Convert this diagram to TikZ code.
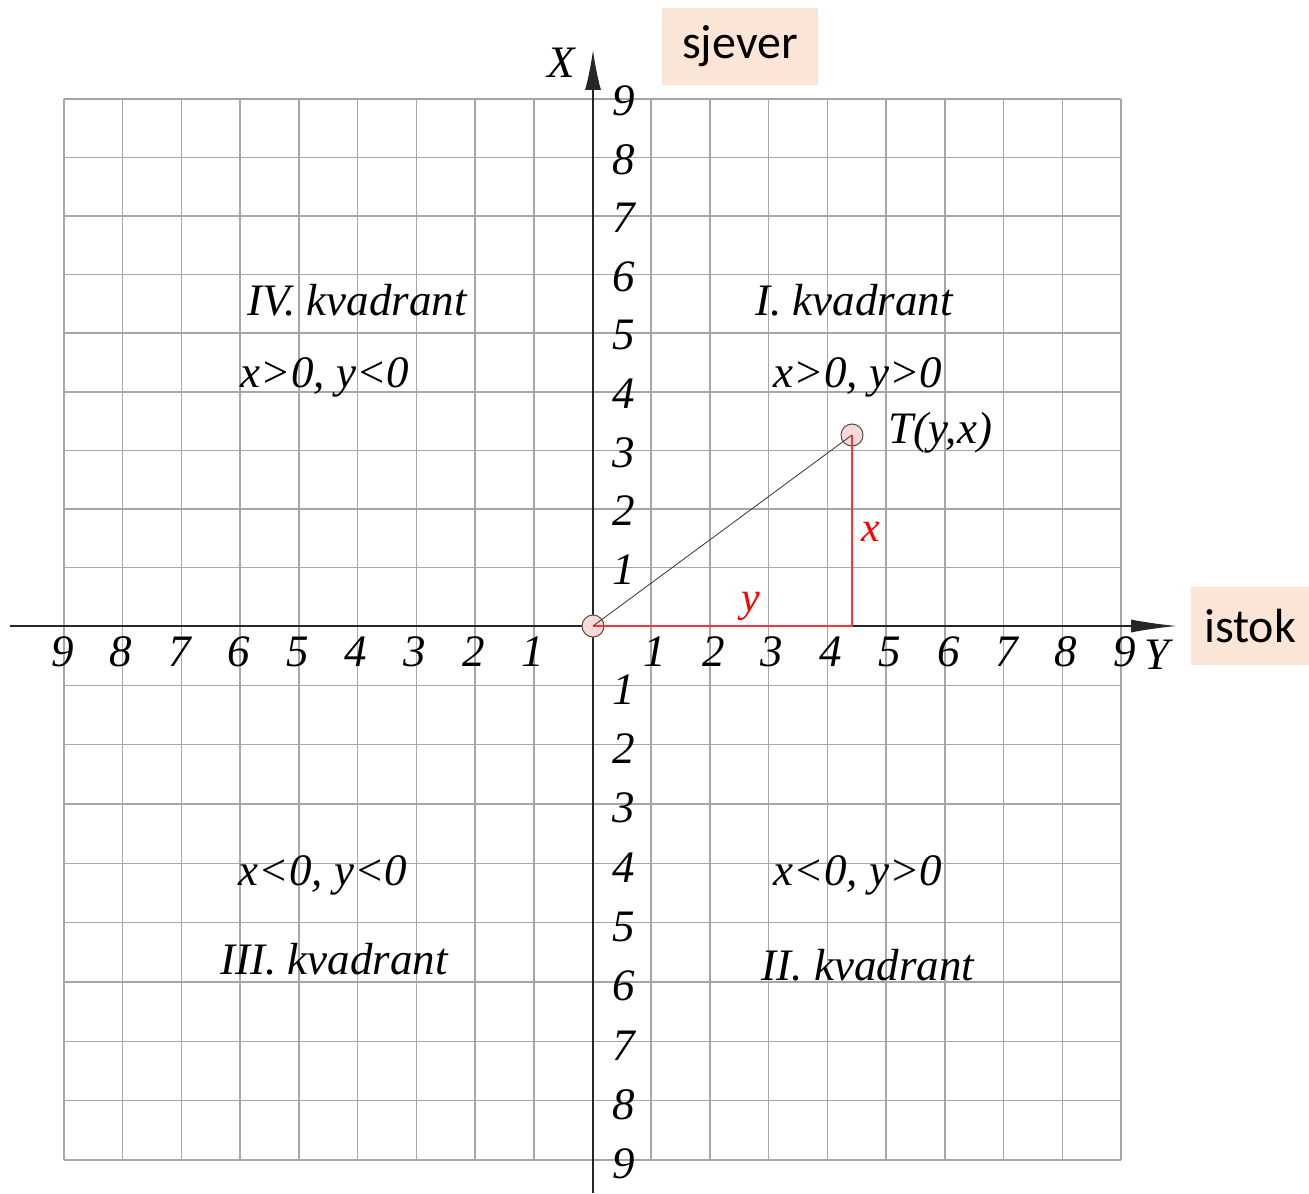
\documentclass[tikz,border=0pt]{standalone}
\usepackage{fontspec}
\setmainfont{Liberation Serif}
\newfontfamily\calibrifont{Carlito}
\usetikzlibrary{arrows.meta}
\definecolor{gridgray}{HTML}{A6A6A6}
\definecolor{peach}{HTML}{FBE5D6}
\definecolor{ptfill}{HTML}{F9D9D9}
\definecolor{redline}{HTML}{FF3333}
\begin{document}
\begin{tikzpicture}[x=0.5pt,y=-0.5pt,
  gridline/.style={gridgray,line width=0.75pt},
  axis/.style={black!85,line width=0.7pt},
  lab/.style={font=\fontsize{22.5}{26}\selectfont\itshape,inner sep=0pt},
  redlab/.style={lab,text=red,font=\fontsize{21}{25}\selectfont\itshape},
  tagbox/.style={fill=peach,font=\calibrifont\fontsize{24}{28}\selectfont,inner sep=0pt},
  ptmark/.style={circle,draw=black!70,fill=ptfill,minimum size=11pt,inner sep=0pt,line width=0.5pt}]
\useasboundingbox (0,0) rectangle (1309,1193);
% grid
\foreach \i in {0,...,18}
  \draw[gridline] ({64+\i*58.72},99) -- ({64+\i*58.72},1160);
\foreach \i in {0,...,9}
  \draw[gridline] (64,{99+\i*58.56}) -- (1121,{99+\i*58.56});
\foreach \i in {1,...,9}
  \draw[gridline] (64,{626+\i*59.33}) -- (1121,{626+\i*59.33});
% axes
\coordinate (ybot) at (593,1193);
\coordinate (xtip) at (593,50);
\coordinate (xleft) at (10,626);
\coordinate (ytip) at (1177,626);
\draw[axis,-{Latex[length=20pt,width=8pt]}] (ybot) -- (xtip);
\draw[axis,-{Latex[length=23pt,width=6.5pt]}] (xleft) -- (ytip);
\node[lab] (Xl) at (561,63) {X};
\node[lab] (Yl) at (1157,655) {Y};
% tick labels
\foreach \i in {1,...,9} {
  \node[lab] at (624,{628-\i*58.56}) {\i};
  \node[lab] at (624,{630+\i*59.33}) {\i};
  \node[lab] at ({591-\i*58.72},652) {\i};
  \node[lab] at ({596+\i*58.72},652) {\i};
}
% point and triangle
\node[ptmark] (O) at (593,626) {};
\node[ptmark] (T) at (852,435) {};
\coordinate (F) at (852,626);
\draw[redline,line width=0.6pt] (O.center) -- (F) -- (T.center);
\draw[black!80,line width=0.4pt] (O.center) -- (T.center);
\node[lab,anchor=west] (Tl) at (888,433) {T(y,x)};
\node[redlab] (xl) at (871,532) {x};
\node[redlab] (yl) at (751,606) {y};
% quadrant labels
\node[lab] (q4) at (357,300) {IV. kvadrant};
\node[lab] (c4) at (325,377) {x>0, y<0};
\node[lab] (q1) at (854,300) {I. kvadrant};
\node[lab] (c1) at (858,377) {x>0, y>0};
\node[lab] (c3) at (323,875) {x<0, y<0};
\node[lab] (q3) at (334,959) {III. kvadrant};
\node[lab] (c2) at (858,875) {x<0, y>0};
\node[lab] (q2) at (868,965) {II. kvadrant};
% direction tags
\node[tagbox,minimum width=78pt,minimum height=38.5pt] (sj) at (740,46.5) {sjever};
\node[tagbox,minimum width=59pt,minimum height=39pt] (is) at (1250,626) {istok};
\end{tikzpicture}
\end{document}
